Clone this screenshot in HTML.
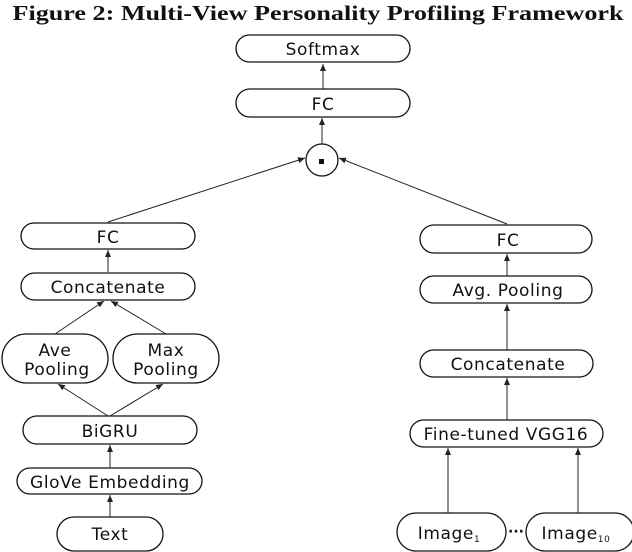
<!DOCTYPE html>
<html><head><style>
html,body{margin:0;padding:0;background:#fff;width:632px;height:552px;overflow:hidden}
svg{display:block}
.b{fill:#fff;stroke:#111;stroke-width:1.3}
.t{font-family:"DejaVu Sans","Liberation Sans",sans-serif;font-size:17px;letter-spacing:0.6px;fill:#111;text-anchor:middle}
.l{stroke:#222;stroke-width:1;fill:none}
</style></head><body>
<svg width="632" height="552" viewBox="0 0 632 552" xmlns="http://www.w3.org/2000/svg">
<defs><marker id="a" markerWidth="8" markerHeight="8" refX="7" refY="4" orient="auto" markerUnits="userSpaceOnUse"><path d="M0,1 L7,4 L0,7 z" fill="#222"/></marker></defs>
<text x="318" y="20" font-family="Liberation Serif,serif" font-weight="bold" font-size="21" text-anchor="middle" textLength="611" lengthAdjust="spacingAndGlyphs" fill="#111">Figure 2: Multi-View Personality Profiling Framework</text>

<rect class="b" x="236" y="35" width="174" height="27" rx="13.5"/><text class="t" x="323" y="55">Softmax</text>
<rect class="b" x="236" y="89" width="174" height="28" rx="14"/><text class="t" x="323" y="110">FC</text>
<circle class="b" cx="322" cy="160" r="16"/><rect x="319" y="159" width="5" height="5" fill="#111"/>
<line class="l" x1="323" y1="89" x2="323" y2="64" marker-end="url(#a)"/>
<line class="l" x1="322" y1="144" x2="322" y2="118" marker-end="url(#a)"/>
<line class="l" x1="108" y1="222" x2="305" y2="158" marker-end="url(#a)"/>
<line class="l" x1="507" y1="224" x2="339" y2="158" marker-end="url(#a)"/>

<rect class="b" x="21" y="223" width="174" height="26" rx="13"/><text class="t" x="108" y="243">FC</text>
<rect class="b" x="21" y="273" width="174" height="27" rx="13.5"/><text class="t" x="108" y="293">Concatenate</text>
<rect class="b" x="2" y="334" width="106" height="49" rx="24.5"/><text class="t" x="55" y="356">Ave</text><text class="t" x="57" y="375">Pooling</text>
<rect class="b" x="113" y="334" width="106" height="49" rx="24.5"/><text class="t" x="166" y="356">Max</text><text class="t" x="166" y="375">Pooling</text>
<rect class="b" x="23" y="416" width="174" height="28" rx="14"/><text class="t" x="110" y="437">BiGRU</text>
<rect class="b" x="17" y="468" width="185" height="26" rx="13"/><text class="t" x="110" y="488" font-size="16">GloVe Embedding</text>
<rect class="b" x="57" y="517" width="106" height="34" rx="17"/><text class="t" x="110" y="540">Text</text>
<line class="l" x1="108" y1="272" x2="108" y2="250" marker-end="url(#a)"/>
<line class="l" x1="55" y1="334" x2="104" y2="301" marker-end="url(#a)"/>
<line class="l" x1="166" y1="334" x2="111" y2="301" marker-end="url(#a)"/>
<line class="l" x1="108" y1="416" x2="58" y2="384" marker-end="url(#a)"/>
<line class="l" x1="110" y1="416" x2="163" y2="384" marker-end="url(#a)"/>
<line class="l" x1="110" y1="468" x2="110" y2="445" marker-end="url(#a)"/>
<line class="l" x1="110" y1="517" x2="110" y2="495" marker-end="url(#a)"/>

<rect class="b" x="420" y="225" width="172" height="28" rx="14"/><text class="t" x="508" y="246">FC</text>
<rect class="b" x="420" y="276" width="172" height="27" rx="13.5"/><text class="t" x="508" y="296">Avg. Pooling</text>
<rect class="b" x="420" y="350" width="173" height="27" rx="13.5"/><text class="t" x="508" y="370">Concatenate</text>
<rect class="b" x="410" y="420" width="193" height="27" rx="13.5"/><text class="t" x="506" y="440" font-size="15">Fine-tuned VGG16</text>
<rect class="b" x="397" y="513" width="109" height="38" rx="19"/><text class="t" x="449" y="539">Image<tspan font-size="9" dy="3">1</tspan></text>
<rect class="b" x="526" y="513" width="108" height="38" rx="19"/><text class="t" x="576" y="539">Image<tspan font-size="9" dy="3">10</tspan></text>
<text x="516" y="536" font-family="DejaVu Sans,sans-serif" font-size="14" font-weight="bold" text-anchor="middle" fill="#111">···</text>
<line class="l" x1="507" y1="276" x2="507" y2="254" marker-end="url(#a)"/>
<line class="l" x1="507" y1="350" x2="507" y2="304" marker-end="url(#a)"/>
<line class="l" x1="507" y1="420" x2="507" y2="378" marker-end="url(#a)"/>
<line class="l" x1="448" y1="513" x2="448" y2="448" marker-end="url(#a)"/>
<line class="l" x1="578" y1="513" x2="578" y2="448" marker-end="url(#a)"/>
</svg>
</body></html>
